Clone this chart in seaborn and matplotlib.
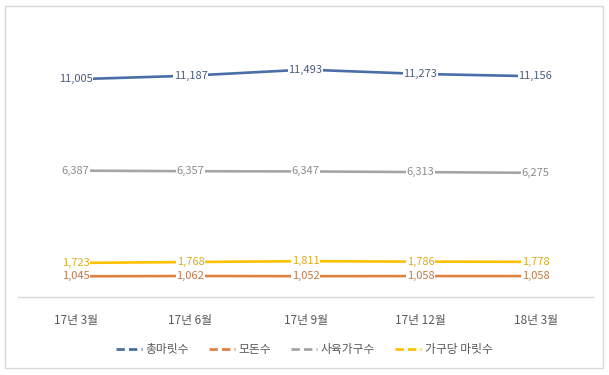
import pandas as pd
import matplotlib.pyplot as plt
import seaborn as sns
from matplotlib.lines import Line2D
from matplotlib.patches import Rectangle

# data
periods = ['17년 3월', '17년 6월', '17년 9월', '17년 12월', '18년 3월']
total_pigs = [11005, 11187, 11493, 11273, 11156]
sows = [1045, 1062, 1052, 1058, 1058]
farms = [6387, 6357, 6347, 6313, 6275]
pigs_per_farm = [1723, 1768, 1811, 1786, 1778]

series_names = ['총마릿수', '모돈수', '사육가구수', '가구당 마릿수']
series_values = [total_pigs, sows, farms, pigs_per_farm]
line_colors = ['#4a6ea8', '#e0823f', '#a5a5a5', '#ffc000']
label_colors = ['#4a5e80', '#c0784a', '#8c8c8c', '#d9ad1c']

rows = []
for name, vals in zip(series_names, series_values):
    for p, v in zip(periods, vals):
        rows.append({'period': p, 'value': v, 'series': name})
df = pd.DataFrame(rows)

sns.set_style('white')
plt.rcParams['font.family'] = ['Noto Sans CJK KR', 'DejaVu Sans']

fig = plt.figure(figsize=(6.09, 3.75), dpi=100)
ax = fig.add_axes([18 / 609, 1 - 297 / 375, 575 / 609, 277 / 375])

sns.lineplot(data=df, x='period', y='value', hue='series', hue_order=series_names,
             palette=line_colors, linewidth=1.9, legend=False, ax=ax, sort=False)

# data labels centered on points with white background
for name, vals, c in zip(series_names, series_values, label_colors):
    for i, v in enumerate(vals):
        ax.text(i, v, f'{v:,}', ha='center', va='center', fontsize=8, color=c,
                bbox=dict(facecolor='white', edgecolor='none', pad=0.5))

ax.set_xlim(-0.5, len(periods) - 0.5)
ax.set_ylim(0, 14000)
ax.set_xlabel('')
ax.set_ylabel('')
ax.set_yticks([])
ax.tick_params(axis='x', length=0, pad=12, labelsize=8.5, labelcolor='#595959')
for s in ['top', 'left', 'right']:
    ax.spines[s].set_visible(False)
ax.spines['bottom'].set_color('#d9d9d9')
ax.spines['bottom'].set_linewidth(1)

handles = [Line2D([0], [0], color=c, lw=2, linestyle=(0, (3, 1.5))) for c in line_colors]
fig.legend(handles, series_names, loc='center', bbox_to_anchor=(0.5, 1 - 350 / 375),
           ncol=4, frameon=False, fontsize=8.5, labelcolor='#595959',
           handlelength=2.2, handletextpad=0.3, columnspacing=1.7)

# outer chart border
fig.patches.append(Rectangle((5 / 609, 1 - 368 / 375), 598 / 609, 362 / 375,
                             transform=fig.transFigure, fill=False,
                             edgecolor='#d9d9d9', linewidth=1))

fig.savefig('out.png', dpi=100)
